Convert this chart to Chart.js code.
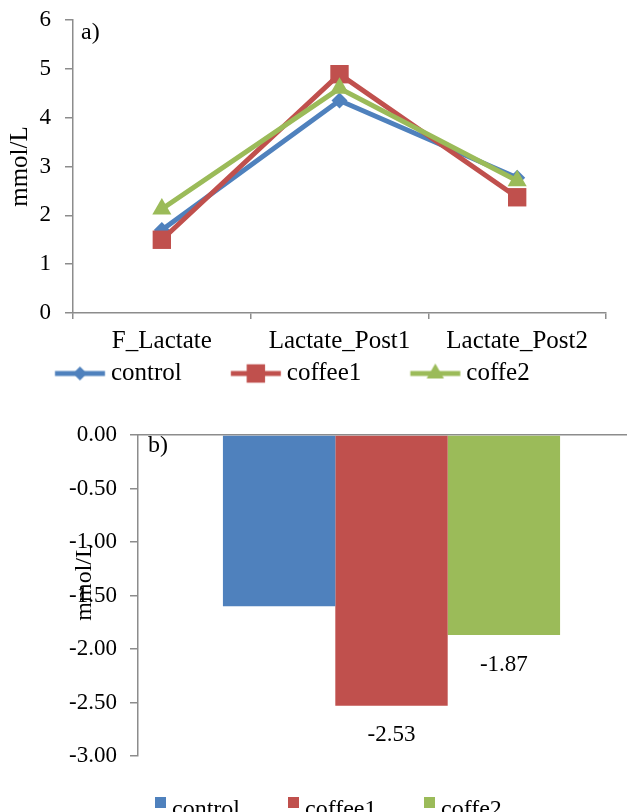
<!DOCTYPE html>
<html><head><meta charset="utf-8">
<script src="https://cdn.jsdelivr.net/npm/chart.js@4/dist/chart.umd.min.js"></script>
<style>
html,body{margin:0;padding:0;background:#fff;overflow:hidden;width:627px;height:812px;position:relative;}
#c1{position:absolute;left:0;top:0;}
#c2{position:absolute;left:0;top:400px;}
</style></head><body>
<canvas id="c1" width="627" height="400"></canvas>
<canvas id="c2" width="645" height="412"></canvas>
<script>
// ---- data ----
const categories = ['F_Lactate', 'Lactate_Post1', 'Lactate_Post2'];
const seriesNames = ['control', 'coffee1', 'coffe2'];
const controlValues = [1.70, 4.35, 2.77];
const coffee1Values = [1.50, 4.89, 2.37];
const coffe2Values = [2.13, 4.60, 2.71];
const yTicksA = [0, 1, 2, 3, 4, 5, 6];
const changeValues = [-1.60, -2.53, -1.87];
const changeLabelShown = [false, true, true];
const yTicksB = [0, -0.5, -1, -1.5, -2, -2.5, -3];

// ---- styles ----
const colors = ['#4F81BD', '#C0504D', '#9BBB59'];
const markers = ['rectRot', 'rect', 'triangle'];
const markerRadius = [8, 13, 11];
const legendMarkerRadius = [7, 13, 10];
const axisGray = '#8C8C8C';
const FONT = "'Liberation Serif', 'Times New Roman', serif";
Chart.defaults.font.family = FONT;
Chart.defaults.color = '#000';

function drawMarker(ctx, style, r, x, y) {
  ctx.beginPath();
  if (style === 'rect') {
    const s = r * Math.SQRT1_2;
    ctx.rect(x - s, y - s, 2 * s, 2 * s);
  } else if (style === 'rectRot') {
    ctx.moveTo(x, y - r); ctx.lineTo(x + r, y); ctx.lineTo(x, y + r); ctx.lineTo(x - r, y); ctx.closePath();
  } else {
    const w = r * Math.sqrt(3) / 2;
    ctx.moveTo(x, y - r); ctx.lineTo(x + w, y + r / 2); ctx.lineTo(x - w, y + r / 2); ctx.closePath();
  }
  ctx.fill();
}
// legend symbol: line + marker, placed just before the text
const legendFont = 25, legendBoxW = 88.5, legendLine = 50, legendGap = 6;
const lineStartRel = legendBoxW / 2 + legendFont / 2 - legendGap - legendLine;
function legendImage(i) {
  const c = document.createElement('canvas');
  const half = Math.ceil(lineStartRel + legendLine) + 1;
  c.width = 2 * half; c.height = 28;
  const g = c.getContext('2d');
  g.strokeStyle = colors[i]; g.fillStyle = colors[i]; g.lineWidth = 5;
  const x0 = half + lineStartRel;
  g.beginPath(); g.moveTo(x0, 14); g.lineTo(x0 + legendLine, 14); g.stroke();
  drawMarker(g, markers[i], legendMarkerRadius[i], x0 + legendLine / 2, 14);
  return c;
}
const legendImgs = [0, 1, 2].map(legendImage);

const seriesA = [controlValues, coffee1Values, coffe2Values];

const labelA = {
  id: 'labelA',
  afterDraw(chart) {
    const ctx = chart.ctx;
    ctx.save();
    ctx.font = '24px ' + FONT;
    ctx.fillStyle = '#000';
    ctx.textBaseline = 'alphabetic';
    ctx.fillText('a)', 81, 39);
    ctx.restore();
  }
};

new Chart(document.getElementById('c1'), {
  type: 'line',
  data: {
    labels: categories,
    datasets: seriesNames.map((n, i) => ({
      label: n,
      data: seriesA[i],
      borderColor: colors[i],
      backgroundColor: colors[i],
      borderWidth: 5,
      pointStyle: markers[i],
      pointRadius: markerRadius[i],
      pointBackgroundColor: colors[i],
      pointBorderColor: colors[i],
      pointBorderWidth: 0,
      tension: 0,
      order: 3 - i
    }))
  },
  options: {
    responsive: false,
    animation: false,
    layout: { padding: { top: 20, right: 21, left: 6, bottom: 4 } },
    plugins: {
      tooltip: { enabled: false },
      legend: {
        position: 'bottom',
        align: 'start',
        labels: {
          usePointStyle: true,
          pointStyleWidth: legendBoxW,
          padding: 4,
          font: { size: legendFont },
          color: '#000',
          generateLabels: (chart) => chart.data.datasets.map((d, i) => ({
            text: d.label,
            fillStyle: colors[i],
            strokeStyle: colors[i],
            lineWidth: 0,
            pointStyle: legendImgs[i],
            hidden: false,
            datasetIndex: i
          }))
        }
      }
    },
    scales: {
      x: {
        offset: true,
        afterFit: (s) => { s.height = 44; },
        grid: { display: true, drawOnChartArea: false, offset: true, tickLength: 6, color: axisGray, lineWidth: 1.5 },
        border: { color: axisGray, width: 1.5 },
        ticks: { font: { size: 25 }, padding: 7, color: '#000', maxRotation: 0 }
      },
      y: {
        min: 0, max: 6,
        afterBuildTicks: (s) => { s.ticks = yTicksA.map(v => ({ value: v })); },
        afterFit: (s) => { s.width = 67; s.paddingTop = 12; s.paddingBottom = 12; },
        grid: { drawOnChartArea: false, tickLength: 8, color: axisGray, lineWidth: 1.5 },
        border: { color: axisGray, width: 1.5 },
        ticks: { font: { size: 23 }, padding: 14, color: '#000' },
        title: { display: true, text: 'mmol/L', font: { size: 25 }, color: '#000', padding: { top: -1, bottom: 0 } }
      }
    }
  },
  plugins: [labelA]
});

// ---- chart b ----
const decorB = {
  id: 'decorB',
  afterDraw(chart) {
    const ctx = chart.ctx;
    ctx.save();
    ctx.fillStyle = '#000';
    ctx.font = '24px ' + FONT;
    ctx.textBaseline = 'alphabetic';
    ctx.textAlign = 'left';
    ctx.fillText('b)', 148, 52);
    // y title overlapping ticks
    ctx.save();
    ctx.translate(91, 182);
    ctx.rotate(-Math.PI / 2);
    ctx.textAlign = 'center';
    ctx.textBaseline = 'alphabetic';
    ctx.fillText('mmol/L', 0, 0);
    ctx.restore();
    // data labels
    ctx.font = '23px ' + FONT;
    ctx.textAlign = 'center';
    ctx.textBaseline = 'top';
    changeValues.forEach((v, i) => {
      if (!changeLabelShown[i]) return;
      const el = chart.getDatasetMeta(i).data[0];
      ctx.fillText(v.toFixed(2), el.x, el.y + 18);
    });
    // legend
    const boxX = [155, 288, 424];
    ctx.textAlign = 'left';
    ctx.textBaseline = 'alphabetic';
    ctx.font = '24px ' + FONT;
    seriesNames.forEach((n, i) => {
      ctx.fillStyle = colors[i];
      ctx.fillRect(boxX[i], 397, 11, 11);
      ctx.fillStyle = '#000';
      ctx.fillText(n, boxX[i] + 17, 416);
    });
    ctx.restore();
  }
};

new Chart(document.getElementById('c2'), {
  type: 'bar',
  data: {
    labels: [''],
    datasets: seriesNames.map((n, i) => ({
      label: n,
      data: [changeValues[i]],
      backgroundColor: colors[i],
      borderWidth: 0,
      barPercentage: 1,
      categoryPercentage: 0.665
    }))
  },
  options: {
    responsive: false,
    animation: false,
    layout: { padding: { top: 27, right: 0, left: 0, bottom: 56 } },
    plugins: { legend: { display: false }, tooltip: { enabled: false } },
    scales: {
      x: {
        position: 'top',
        grid: { display: false },
        border: { color: axisGray, width: 1.5 },
        ticks: { display: false }
      },
      y: {
        min: -3, max: 0,
        afterBuildTicks: (s) => { s.ticks = yTicksB.map(v => ({ value: v })); },
        afterFit: (s) => { s.width = 138; },
        grid: { drawOnChartArea: false, tickLength: 8, color: axisGray, lineWidth: 1.5 },
        border: { color: axisGray, width: 1.5 },
        ticks: { font: { size: 23 }, padding: 13, color: '#000', callback: (v) => Number(v).toFixed(2) }
      }
    }
  },
  plugins: [decorB]
});
</script>
</body></html>
